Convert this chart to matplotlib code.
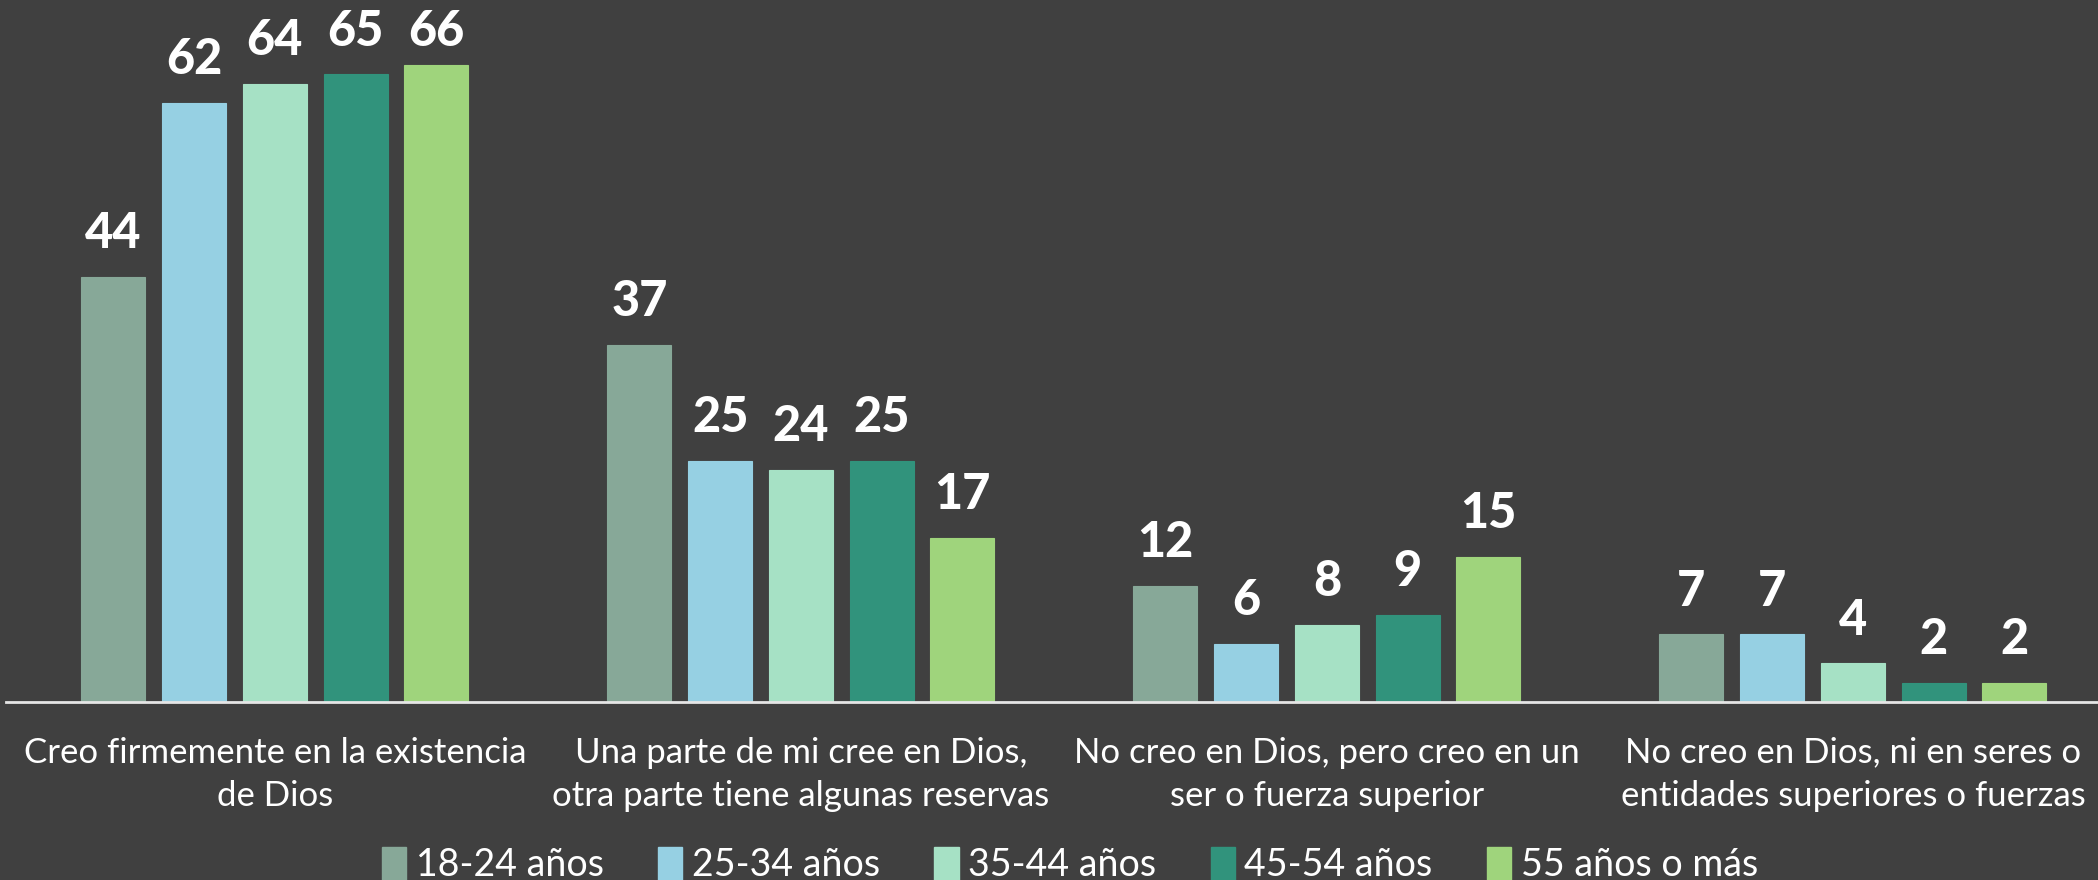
import matplotlib
matplotlib.use("Agg")
import matplotlib.pyplot as plt
import numpy as np
from matplotlib.patches import Patch

categories = [
    "Creo firmemente en la existencia\nde Dios",
    "Una parte de mi cree en Dios,\notra parte tiene algunas reservas",
    "No creo en Dios, pero creo en un\nser o fuerza superior",
    "No creo en Dios, ni en seres o\nentidades superiores o fuerzas",
]
series_names = ["18-24 años", "25-34 años", "35-44 años", "45-54 años", "55 años o más"]
v_18_24 = [44, 37, 12, 7]
v_25_34 = [62, 25, 6, 7]
v_35_44 = [64, 24, 8, 4]
v_45_54 = [65, 25, 9, 2]
v_55 = [66, 17, 15, 2]
series_values = [v_18_24, v_25_34, v_35_44, v_45_54, v_55]
colors = ["#87A898", "#96D0E3", "#A6E1C5", "#31937C", "#9FD47C"]

BG = "#404040"
plt.rcParams["font.family"] = ["Lato", "DejaVu Sans"]

fig = plt.figure(figsize=(20.98, 8.8), dpi=100, facecolor=BG)
ax = fig.add_axes([0.0029, 0.2023, 0.9971, 0.7977])
ax.set_facecolor(BG)

x = np.arange(len(categories))
pitch = 0.1535
width = 0.1217
for i, (vals, c) in enumerate(zip(series_values, colors)):
    pos = x + (i - 2) * pitch
    ax.bar(pos, vals, width=width, color=c, edgecolor=c, linewidth=0.8, zorder=2)
    for px, v in zip(pos, vals):
        ax.annotate(str(v), (px, min(v, 64.9)), xytext=(0, 15), textcoords="offset points",
                    ha="center", va="bottom", color="white", fontsize=35,
                    fontweight="black")

ax.set_xlim(-0.511, 3.466)
ax.set_ylim(0, 72.7)
for s in ["left", "right", "top"]:
    ax.spines[s].set_visible(False)
ax.spines["bottom"].set_color("#E6E6E6")
ax.spines["bottom"].set_linewidth(2)
ax.set_yticks([])
ax.set_xticks(x)
ax.set_xticklabels(categories, color="white", fontsize=25, linespacing=1.45)
ax.tick_params(axis="x", length=0, pad=25)

handles = [Patch(facecolor=c, edgecolor=c) for c in colors]
leg = fig.legend(handles, series_names, loc="center", bbox_to_anchor=(0.51, 0.017),
                 ncol=5, frameon=False, fontsize=27, labelcolor="white",
                 handlelength=0.65, handleheight=1.0, handletextpad=0.25,
                 columnspacing=1.45)

fig.savefig("out.png", dpi=100, facecolor=BG)
